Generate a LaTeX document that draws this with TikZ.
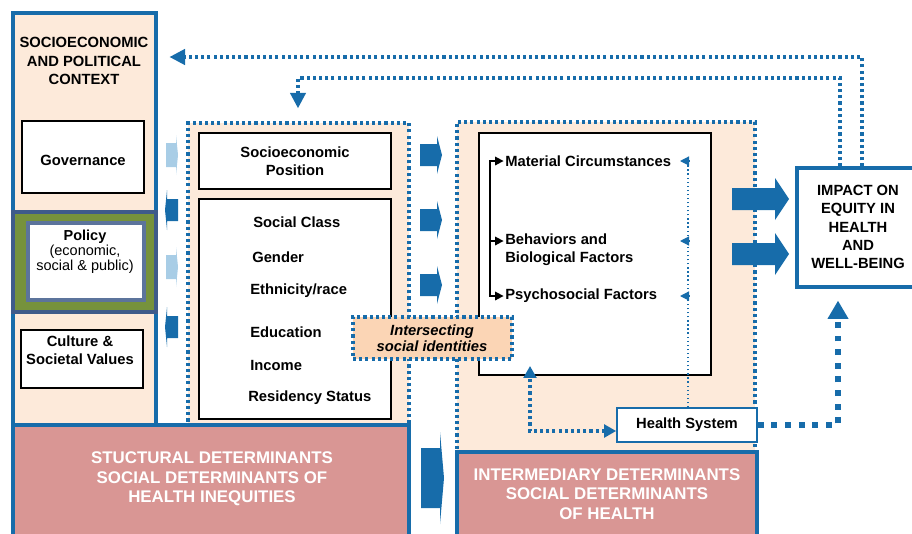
\documentclass[tikz,border=0pt]{standalone}
\usepackage{fontspec}
\setmainfont{Liberation Sans}
\usepackage{tikz}
\usetikzlibrary{arrows.meta, fit}

\definecolor{sdblue}{RGB}{23,108,170}
\definecolor{sdlight}{RGB}{168,205,230}
\definecolor{sdpeach}{RGB}{253,234,218}
\definecolor{sdtan}{RGB}{251,213,181}
\definecolor{sdpink}{RGB}{217,150,148}
\definecolor{sdgreen}{RGB}{118,146,60}
\definecolor{sdslate}{RGB}{63,91,138}

\begin{document}
\begin{tikzpicture}[x=0.025cm, y=-0.025cm,
        txt/.style={font={\fontsize{10.5}{13}\selectfont\bfseries}, align=center, inner sep=0pt},
        whitebox/.style={draw=black, line width=1.2pt, fill=white, inner sep=0pt},
        dotbox/.style={draw=sdblue, line width=2.2pt, dash pattern=on 2.2pt off 2.2pt, fill=sdpeach, inner sep=0pt},
        pinkbox/.style={draw=sdblue, line width=2.2pt, fill=sdpink, inner sep=0pt},
        pinktxt/.style={text=white, font={\fontsize{12}{14}\selectfont\bfseries}, align=center, inner sep=0pt},
        fb/.style={draw=sdblue, line width=2.2pt, dash pattern=on 2.2pt off 2.2pt},
        tip/.style={-{Triangle[length=#1,width=#1]}},
        tip/.default=10pt]
    \useasboundingbox (0,0) rectangle (912,533);
    \clip (0,0) rectangle (912,533);

    % socioeconomic and political context
    \node[fit={(13,13) (156,427)}, draw=sdblue, line width=2.2pt, fill=sdpeach, inner sep=0pt] (ctx) {};
    \node[txt] (ctxtitle) at (84,61) {SOCIOECONOMIC\\AND POLITICAL\\CONTEXT};
    \node[whitebox, fit={(22,121) (144,193)}] (gov) {};
    \node[txt] (govtxt) at (83,160) {Governance};
    \node[fit={(13,212) (156,312)}, draw=sdslate, line width=2.2pt, fill=sdgreen, inner sep=0pt] (band) {};
    \node[fit={(28,223) (144,300)}, draw=sdslate!85!white, line width=2.2pt, fill=white, inner sep=0pt] (policy) {};
    \node[align=center, inner sep=0pt, font={\fontsize{10.3}{10.8}\selectfont}] (policytxt) at (85,252)
        {\textbf{Policy}\\(economic,\\social \& public)};
    \node[whitebox, fit={(21,330) (143,388)}] (cult) {};
    \node[txt] (culttxt) at (80,350) {Culture \&\\Societal Values};

    % structural determinants
    \node[dotbox, fit={(188,123) (409,425)}] (strbox) {};
    \node[whitebox, fit={(199,133) (391,189)}] (sep) {};
    \node[txt] (septxt) at (295,161) {Socioeconomic\\Position};
    \node[whitebox, fit={(199,199) (391,419)}] (axes) {};
    \foreach \x/\y/\t [count=\i] in {253/222/Social Class, 252/257/Gender, 250/291/{Ethnicity/race}, 250/332/Education, 250/365/Income, 248/398/Residency Status}
        \node[txt, anchor=west] (ax\i) at (\x,\y) {\t};

    % intermediary determinants
    \node[dotbox, fit={(457,122) (755,452)}] (intbox) {};
    \node[whitebox, fit={(479,133) (711,375)}] (inner) {};
    \node[txt, anchor=west, align=left] (mat) at (505,161) {Material Circumstances};
    \node[txt, anchor=west, align=left] (beh) at (505,250) {Behaviors and\\Biological Factors};
    \node[txt, anchor=west, align=left] (psy) at (505,296) {Psychosocial Factors};
    \node[dotbox, fill=sdtan, fit={(353,317) (512,359)}] (inter) {};
    \node[align=center, inner sep=0pt, font={\fontsize{10.5}{11.5}\selectfont\bfseries\itshape}] (intertxt) at (432,338)
        {Intersecting\\social identities};
    \node[draw=sdblue, line width=1.2pt, fill=white, fit={(617,408) (757,442)}, inner sep=0pt] (hs) {};
    \node[txt] (hstxt) at (687,425) {Health System};

    % bottom bands
    \node[pinkbox, fit={(13,425) (409,545)}] (structural) {};
    \node[pinktxt] (structxt) at (212,479) {STUCTURAL DETERMINANTS\\SOCIAL DETERMINANTS OF\\HEALTH INEQUITIES};
    \node[pinkbox, fit={(457,452) (757,545)}] (intermed) {};
    \node[pinktxt] (intermtxt) at (607,494) {INTERMEDIARY DETERMINANTS\\SOCIAL DETERMINANTS\\OF HEALTH};

    % impact
    \node[draw=sdblue, line width=2.2pt, fill=white, fit={(797,168) (919,287)}, inner sep=0pt] (impact) {};
    \node[txt] (impacttxt) at (858,227) {IMPACT ON\\EQUITY IN\\HEALTH\\AND\\WELL-BEING};

    % block arrows
    \foreach \y in {155,267}
        \fill[sdlight] (166,\y-12) -- (176,\y-12) -- (176,\y-20) -- (178,\y) -- (176,\y+20) -- (176,\y+12) -- (166,\y+12) -- cycle;
    \foreach \y in {210,327}
        \fill[sdblue] (178,\y-11) -- (167,\y-11) -- (167,\y-20) -- (165,\y) -- (167,\y+20) -- (167,\y+11) -- (178,\y+11) -- cycle;
    \foreach \y in {155,220,285}
        \fill[sdblue] (420,\y-11) -- (437,\y-11) -- (437,\y-19) -- (442,\y) -- (437,\y+19) -- (437,\y+11) -- (420,\y+11) -- cycle;
    \fill[sdblue] (421,448) -- (440,448) -- (440,432) -- (444,478) -- (440,524) -- (440,508) -- (421,508) -- cycle;
    \foreach \y in {199,254}
        \fill[sdblue] (732,\y-11) -- (775,\y-11) -- (775,\y-21) -- (789,\y) -- (775,\y+21) -- (775,\y+11) -- (732,\y+11) -- cycle;

    % links inside the intermediary box
    \draw[line width=1.2pt, {Triangle[length=6pt,width=6pt]}-{Triangle[length=6pt,width=6pt]}, shorten <=1pt, shorten >=1pt]
        (mat.west) -- (490,161) -- (490,296) -- (psy.west);
    \draw[line width=1.2pt, -{Triangle[length=6pt,width=6pt]}, shorten >=1pt] (490,241) -- (beh.west |- 0,241);
    \draw[sdblue, line width=0.9pt, dotted] (hs.north -| 688,0) -- (688,161);
    \foreach \y in {161,241,296}
        \draw[sdblue, line width=0.9pt, tip=6.5pt] (689,\y) -- (680,\y);
    \coordinate (ihook) at (530,366);
    \draw[fb, {Triangle[length=8.5pt,width=9pt]}-{Triangle[length=8.5pt,width=9pt]}] ([yshift=-0.15cm]hs.west) -| (ihook);
    \draw[sdblue, line width=4.2pt, dash pattern=on 4.2pt off 5.5pt, -{Triangle[length=13pt,width=14pt]}, shorten >=0.3cm]
        (hs.east) -| (impact.south -| 838,0);

    % feedback from impact
    \coordinate (fbturn) at (298,78);
    \draw[fb, tip=11pt, shorten >=0.3cm] (impact.north -| 862,0) |- (ctx.east |- 0,57);
    \draw[fb, tip=11pt, shorten >=0.33cm] (impact.north -| 840,0) |- (fbturn) -- (strbox.north -| fbturn);
\end{tikzpicture}
\end{document}
